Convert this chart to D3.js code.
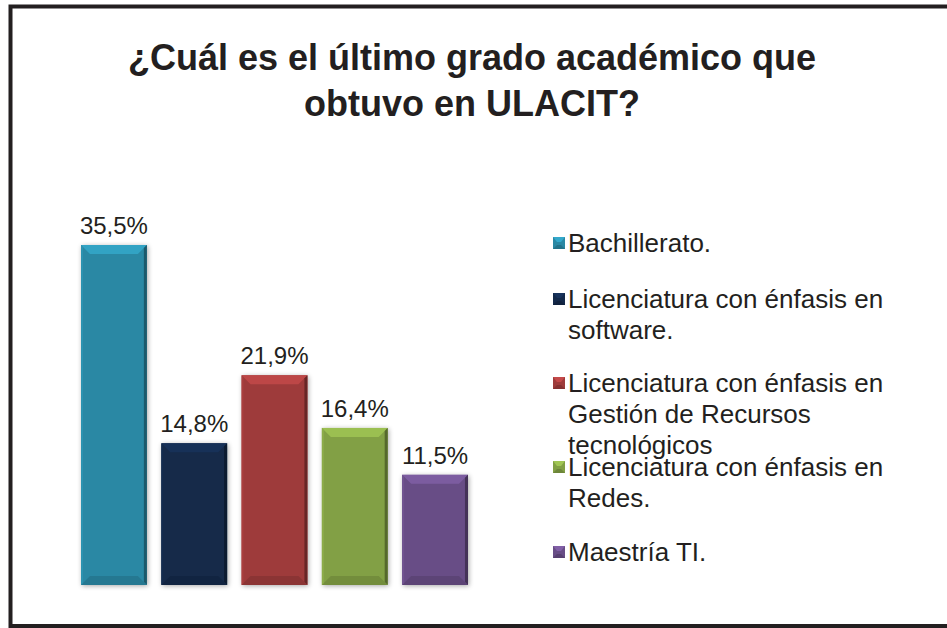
<!DOCTYPE html>
<html><head><meta charset="utf-8">
<script src="https://cdn.jsdelivr.net/npm/d3@7"></script>
<style>body{margin:0;background:#fff;}svg{display:block;font-family:"Liberation Sans",Arial,sans-serif;}</style>
</head><body>
<svg id="c" width="947" height="628"></svg>
<script>
const categories = ["Bachillerato.", "Licenciatura con énfasis en software.", "Licenciatura con énfasis en Gestión de Recursos tecnológicos", "Licenciatura con énfasis en Redes.", "Maestría TI."];
const values = [35.5, 14.8, 21.9, 16.4, 11.5];
const valueLabels = ["35,5%", "14,8%", "21,9%", "16,4%", "11,5%"];
const legendLines = [["Bachillerato."], ["Licenciatura con énfasis en", "software."], ["Licenciatura con énfasis en", "Gestión de Recursos", "tecnológicos"], ["Licenciatura con énfasis en", "Redes."], ["Maestría TI."]];
const colors = ["#2a88a4", "#13294a", "#9e3b3b", "#82a044", "#684d86"];
const titleLines = ["¿Cuál es el último grado académico que", "obtuvo en ULACIT?"];

const svg = d3.select("#c");
// frame
svg.append("rect").attr("x", 10.5).attr("y", 6.5).attr("width", 960).attr("height", 619.5)
  .attr("fill", "none").attr("stroke", "#231f20").attr("stroke-width", 4);

svg.append("text").attr("text-anchor", "middle").attr("font-weight", "bold").attr("font-size", 36).attr("fill", "#231f20")
  .selectAll("tspan").data(titleLines).join("tspan").attr("x", 472).attr("y", (d, i) => 70 + i * 46).text(d => d);

const x = d3.scaleBand().domain(d3.range(values.length)).range([73, 476]).paddingInner(0.18).paddingOuter(0.1);
const y = d3.scaleLinear().domain([0, 35.5]).range([585, 245]);

const defs = svg.append("defs");
const filt = defs.append("filter").attr("id", "sh").attr("x", "-20%").attr("y", "-10%").attr("width", "140%").attr("height", "120%");
filt.append("feGaussianBlur").attr("in", "SourceAlpha").attr("stdDeviation", 2.5);
filt.append("feOffset").attr("dx", 1).attr("dy", 1).attr("result", "b");
filt.append("feComponentTransfer").append("feFuncA").attr("type", "linear").attr("slope", 0.35);
const m = filt.append("feMerge"); m.append("feMergeNode"); m.append("feMergeNode").attr("in", "SourceGraphic");

const g = svg.append("g");
values.forEach((v, i) => {
  const x0 = x(i), w = x.bandwidth(), y0 = y(v), y1 = y(0);
  const c = d3.color(colors[i]);
  const bg = g.append("g");
  bg.append("rect").attr("x", x0).attr("y", y0).attr("width", w).attr("height", y1 - y0).attr("fill", c).attr("filter", "url(#sh)");
  const b = 9;
  bg.append("polygon").attr("points", [[x0, y0], [x0 + w, y0], [x0 + w - b, y0 + b], [x0 + b, y0 + b]].join(" "))
    .attr("fill", c.brighter(0.5));
  bg.append("polygon").attr("points", [[x0 + w, y0], [x0 + w, y1], [x0 + w - 3, y1 - 3], [x0 + w - 3, y0 + 3]].join(" "))
    .attr("fill", c.darker(1.2));
  bg.append("polygon").attr("points", [[x0, y1], [x0 + w, y1], [x0 + w - b, y1 - b], [x0 + b, y1 - b]].join(" "))
    .attr("fill", c.darker(0.35));
  bg.append("polygon").attr("points", [[x0, y0], [x0 + 2, y0 + 2], [x0 + 2, y1 - 2], [x0, y1]].join(" "))
    .attr("fill", c.brighter(0.2));
  g.append("text").attr("x", x0 + w / 2).attr("y", y0 - 11).attr("text-anchor", "middle")
    .attr("font-size", 24).attr("fill", "#231f20").text(valueLabels[i]);
});

// legend
const legY = [243, 299, 383, 467, 552];
const lg = svg.append("g");
legendLines.forEach((lines, i) => {
  const c = d3.color(colors[i]);
  const cy = legY[i];
  lg.append("rect").attr("x", 553).attr("y", cy - 6).attr("width", 12).attr("height", 12).attr("fill", c);
  lg.append("polygon").attr("points", [[553, cy - 6], [565, cy - 6], [561, cy - 1], [557, cy - 1]].join(" ")).attr("fill", c.brighter(0.6));
  lg.append("polygon").attr("points", [[553, cy + 6], [565, cy + 6], [561, cy + 2], [557, cy + 2]].join(" ")).attr("fill", c.darker(0.5));
  const t = lg.append("text").attr("font-size", 26).attr("fill", "#231f20");
  t.selectAll("tspan").data(lines).join("tspan").attr("x", 568).attr("y", (d, j) => cy + 9 + j * 31).text(d => d);
});
</script>
</body></html>
